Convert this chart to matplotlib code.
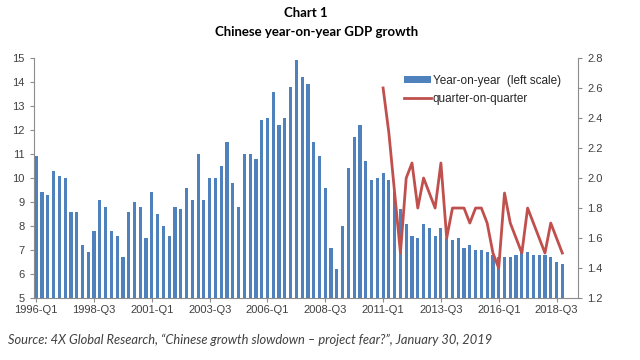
import numpy as np
import matplotlib.pyplot as plt
from matplotlib.patches import Patch
from matplotlib.lines import Line2D

# year-on-year growth, 1996-Q1 .. 2018-Q4 (left scale)
yoy = [10.9, 9.4, 9.3, 10.3, 10.1, 10.0, 8.6, 8.6, 7.2, 6.9,
       7.8, 9.1, 8.8, 7.8, 7.6, 6.7, 8.6, 9.0, 8.8, 7.5,
       9.4, 8.5, 8.0, 7.6, 8.8, 8.7, 9.6, 9.1, 11.0, 9.1,
       10.0, 10.0, 10.5, 11.5, 9.8, 8.8, 11.0, 11.0, 10.8, 12.4,
       12.5, 13.6, 12.2, 12.5, 13.8, 14.9, 14.2, 13.9, 11.5, 10.9,
       9.6, 7.1, 6.2, 8.0, 10.4, 11.7, 12.2, 10.7, 9.9, 10.0,
       10.2, 9.9, 9.4, 8.7, 8.1, 7.6, 7.5, 8.1, 7.9, 7.6,
       7.9, 7.5, 7.4, 7.5, 7.1, 7.2, 7.0, 7.0, 6.9, 6.8,
       6.7, 6.7, 6.7, 6.8, 6.9, 6.9, 6.8, 6.8, 6.8, 6.7,
       6.5, 6.4]

# quarter-on-quarter growth, 2011-Q1 .. 2018-Q4 (right scale)
qoq = [2.6, 2.3, 1.9, 1.5, 2.0, 2.1, 1.8, 2.0, 1.9, 1.8,
       2.1, 1.6, 1.8, 1.8, 1.8, 1.7, 1.8, 1.8, 1.7, 1.5,
       1.4, 1.9, 1.7, 1.6, 1.5, 1.8, 1.7, 1.6, 1.5, 1.7,
       1.6, 1.5]

tick_labels = ["1996-Q1", "1998-Q3", "2001-Q1", "2003-Q3", "2006-Q1",
               "2008-Q3", "2011-Q1", "2013-Q3", "2016-Q1", "2018-Q3"]

bar_color = "#4F81BD"
line_color = "#C0504D"
axis_gray = "#8C8C8C"
text_gray = "#404040"

plt.rcParams["font.family"] = ["Liberation Sans", "DejaVu Sans"]

fig = plt.figure(figsize=(6.4, 3.6), dpi=100)
ax = fig.add_axes([0.053, 0.172, 0.850, 0.667])
ax2 = ax.twinx()

x = np.arange(len(yoy))
ax.bar(x, np.array(yoy) - 5, bottom=5, width=0.55, color=bar_color, zorder=2)

x_q = np.arange(len(yoy) - len(qoq), len(yoy))
ax2.plot(x_q, qoq, color=line_color, linewidth=2.0, zorder=3)

ax.set_xlim(-0.4, 93.7)
ax.set_ylim(5, 15)
ax.set_yticks(range(5, 16))
ax2.set_ylim(1.2, 2.8)
ax2.set_yticks(np.arange(1.2, 2.81, 0.2))
ax2.set_yticklabels([f"{v:.1f}" for v in np.arange(1.2, 2.81, 0.2)])

ax.set_xticks(np.arange(0, len(yoy), 10))
ax.set_xticklabels(tick_labels)

for a in (ax, ax2):
    a.spines["top"].set_visible(False)
    for s in ("left", "right", "bottom"):
        a.spines[s].set_color(axis_gray)
        a.spines[s].set_linewidth(0.8)
    a.tick_params(colors=axis_gray, labelcolor=text_gray, labelsize=8,
                  length=3, width=0.8)
ax.spines["right"].set_visible(False)
ax2.spines["left"].set_visible(False)
ax2.spines["bottom"].set_visible(False)
ax.tick_params(axis="x", pad=2)

handles = [Patch(facecolor=bar_color, edgecolor="none"),
           Line2D([0], [0], color=line_color, linewidth=2.0)]
leg = ax.legend(handles, ["Year-on-year  (left scale)", "quarter-on-quarter"],
                loc="upper left", bbox_to_anchor=(0.672, 0.95), frameon=False,
                fontsize=8.5, handlelength=2.3, handleheight=0.45,
                handletextpad=0.1, labelspacing=0.55, borderaxespad=0)
for t in leg.get_texts():
    t.set_color("#262626")

fig.text(0.478, 0.965, "Chart 1", ha="center", va="center",
         fontsize=9.5, fontweight="bold", family=["Lato", "DejaVu Sans"])
fig.text(0.494, 0.912, "Chinese year-on-year GDP growth", ha="center",
         va="center", fontsize=9.5, fontweight="bold",
         family=["Lato", "DejaVu Sans"])
fig.text(0.012, 0.055,
         "Source: 4X Global Research, \u201cChinese growth slowdown \u2013 project fear?\u201d, January 30, 2019",
         ha="left", va="center", fontsize=9.3, style="italic", color="#404040",
         family=["Lato", "DejaVu Sans"])

fig.savefig("out.png", dpi=100)
